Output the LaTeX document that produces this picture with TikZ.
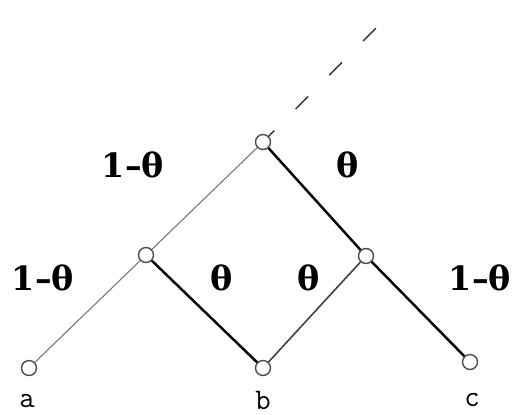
\documentclass[tikz,border=0pt]{standalone}
\usepackage{fontspec}
\newfontfamily\wtfont{DejaVu Serif}
\usetikzlibrary{positioning}

\begin{document}
\begin{tikzpicture}[x=0.02cm,y=-0.02cm,
    vtx/.style={circle,draw=black!70,line width=0.8pt,fill=white,
      minimum size=0.3cm,inner sep=0pt},
    lightedge/.style={draw=black!55,line width=0.6pt},
    midedge/.style={draw=black!75,line width=0.9pt},
    heavyedge/.style={draw=black,line width=1.4pt},
    prob/.style={font=\fontsize{19}{22}\selectfont\wtfont\bfseries,inner sep=0pt},
    leaf/.style={font=\fontsize{17}{19}\selectfont\ttfamily,inner sep=0pt}]
  \useasboundingbox (0,0) rectangle (514,414);
  % lattice points
  \node[vtx] (top) at (263,142) {};
  \node[vtx] (lm) at (146,255) {};
  \node[vtx] (rm) at (366,256) {};
  \node[vtx] (a) at (29,368) {};
  \node[vtx] (b) at (263,368) {};
  \node[vtx] (c) at (470,362) {};
  \coordinate (tail) at (390,14);
  % edges
  \draw[lightedge] (top) -- (lm);
  \draw[lightedge] (lm) -- (a);
  \draw[heavyedge] (top) -- (rm);
  \draw[heavyedge] (lm) -- (b);
  \draw[heavyedge] (rm) -- (c);
  \draw[midedge] (rm) -- (b);
  \draw[black!80,line width=0.8pt,dash pattern=on 0.36cm off 0.6cm,
    dash phase=0.2cm] (top) -- (tail);
  % weights
  \node[prob] (w1) at (133,165) {1–θ};
  \node[prob] (w2) at (348,165) {θ};
  \node[prob] (w3) at (43,278) {1–θ};
  \node[prob] (w4) at (222,278) {θ};
  \node[prob] (w5) at (309,278) {θ};
  \node[prob] (w6) at (480,278) {1–θ};
  % end labels
  \node[leaf] (la) at (27,401) {a};
  \node[leaf] (lb) at (263,400) {b};
  \node[leaf] (lc) at (472,400) {c};
\end{tikzpicture}
\end{document}
